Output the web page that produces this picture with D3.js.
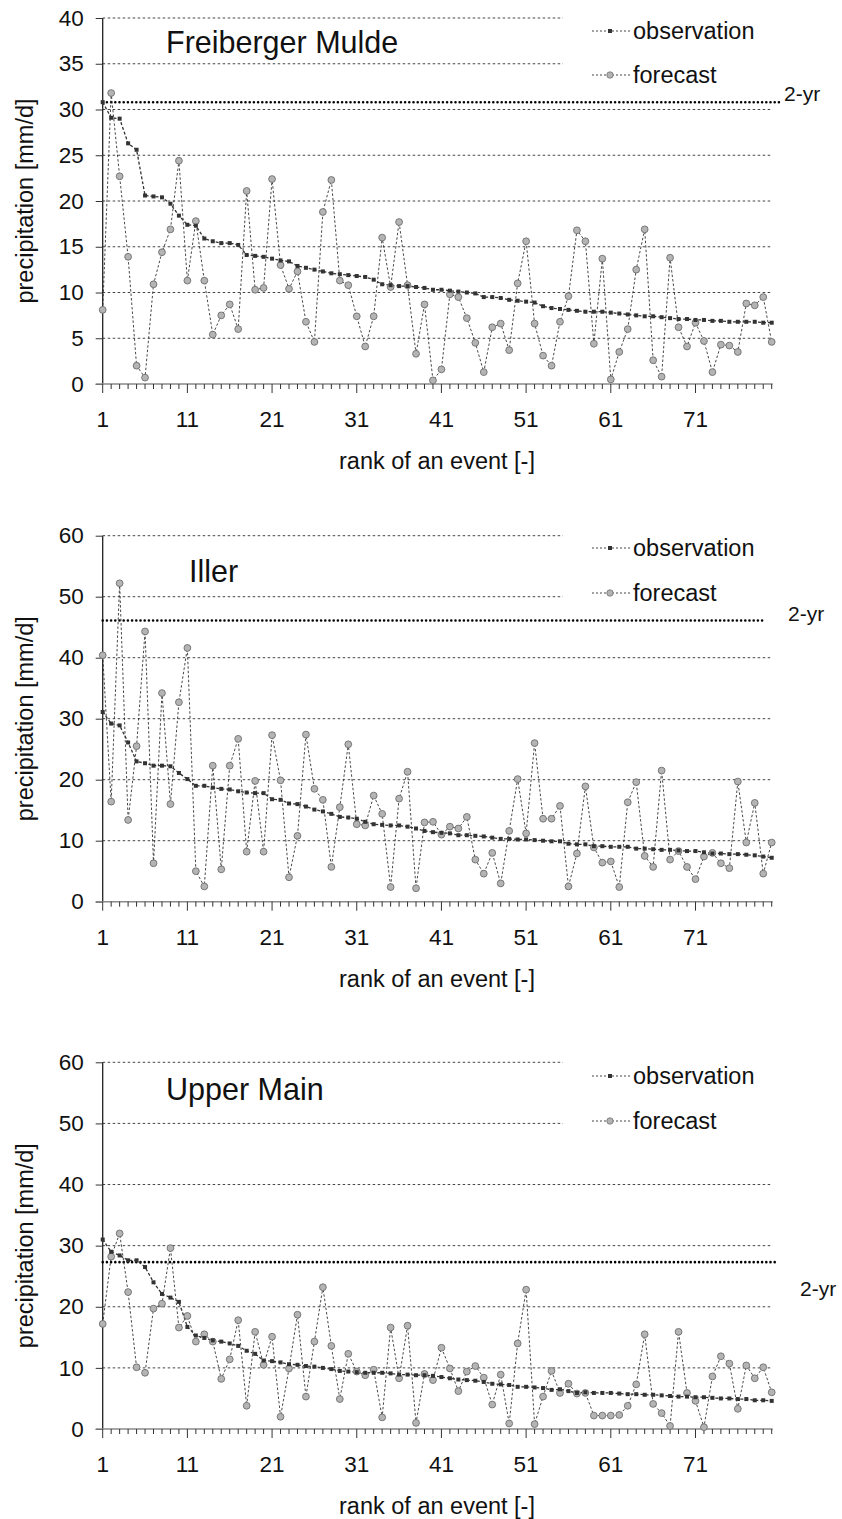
<!DOCTYPE html>
<html><head><meta charset="utf-8">
<script src="https://cdn.jsdelivr.net/npm/d3@7"></script>
<style>body{margin:0;background:#fff}svg{display:block}text{font-family:"Liberation Sans",Arial,sans-serif;fill:#111}</style>
</head><body><svg id="c" width="842" height="1519"></svg>
<script>
const ranks = d3.range(1, 81);
const xTickLabels = ["1","11","21","31","41","51","61","71"];
const titles = ["Freiberger Mulde","Iller","Upper Main"];
const yMaxes = [40, 60, 60];
const yTickSteps = [5, 10, 10];
const twoYr = [30.8, 46.1, 27.3];
const legendLabels = ["observation","forecast"];
const yLabel = "precipitation [mm/d]";
const xLabel = "rank of an event [-]";

const obs1 = [30.8,29.1,29.0,26.3,25.6,20.6,20.5,20.4,19.7,18.4,17.4,17.3,15.9,15.6,15.4,15.4,15.2,14.1,14.0,13.9,
13.7,13.5,13.4,12.9,12.7,12.5,12.3,12.1,12.0,11.9,11.8,11.7,11.4,10.9,10.8,10.7,10.7,10.6,10.5,10.3,
10.3,10.2,10.1,10.0,9.9,9.5,9.5,9.4,9.2,9.1,9.0,8.9,8.5,8.3,8.2,8.1,8.0,7.9,7.9,7.9,
7.8,7.7,7.6,7.5,7.4,7.4,7.3,7.2,7.1,7.1,7.0,7.0,6.9,6.9,6.8,6.8,6.8,6.8,6.7,6.7];
const fc1 = [8.1,31.8,22.7,13.9,2.0,0.7,10.9,14.4,16.9,24.4,11.3,17.8,11.3,5.4,7.5,8.7,6.0,21.1,10.3,10.5,
22.4,13.0,10.4,12.3,6.8,4.6,18.8,22.3,11.3,10.8,7.4,4.1,7.4,16.0,10.6,17.7,10.8,3.3,8.7,0.4,
1.6,9.8,9.5,7.2,4.5,1.3,6.2,6.6,3.7,11.0,15.6,6.6,3.1,2.0,6.8,9.6,16.8,15.6,4.4,13.7,
0.5,3.5,6.0,12.5,16.9,2.6,0.8,13.8,6.2,4.1,6.7,4.7,1.3,4.3,4.2,3.5,8.8,8.6,9.5,4.6];
const obs2 = [31.1,29.2,28.9,26.1,23.0,22.7,22.3,22.3,22.2,21.1,20.1,19.0,19.0,18.7,18.5,18.4,18.1,17.9,17.8,17.8,
16.8,16.7,16.1,16.0,15.6,15.1,14.8,14.4,13.9,13.8,13.6,13.1,12.7,12.6,12.5,12.5,12.3,12.0,11.6,11.4,
11.3,11.2,10.9,10.9,10.8,10.7,10.5,10.3,10.3,10.2,10.2,10.1,10.0,9.9,9.9,9.5,9.4,9.4,9.1,9.1,
9.0,9.0,9.0,8.7,8.7,8.6,8.5,8.5,8.4,8.3,8.3,8.1,7.9,7.9,7.8,7.8,7.7,7.6,7.4,7.2];
const fc2 = [40.4,16.4,52.2,13.4,25.5,44.3,6.3,34.2,16.0,32.7,41.6,5.0,2.5,22.3,5.3,22.3,26.7,8.2,19.8,8.2,
27.3,19.9,4.0,10.8,27.4,18.5,16.7,5.7,15.5,25.8,12.7,12.5,17.4,14.4,2.4,16.9,21.3,2.2,13.0,13.1,
11.0,12.3,12.0,13.9,6.9,4.6,8.0,3.0,11.6,20.1,11.2,26.0,13.6,13.6,15.7,2.5,7.9,18.9,8.9,6.4,
6.6,2.4,16.3,19.6,7.5,5.7,21.5,6.9,8.3,5.7,3.7,7.4,8.0,6.3,5.5,19.7,9.7,16.2,4.6,9.7];
const obs3 = [31.0,29.0,28.4,27.6,27.6,26.5,24.0,22.1,21.5,20.8,16.7,15.3,14.9,14.5,14.3,14.0,13.6,12.8,12.3,11.2,
11.1,10.9,10.6,10.5,10.3,10.2,10.0,9.8,9.5,9.4,9.3,9.2,9.2,9.2,9.1,8.9,8.9,8.8,8.8,8.7,
8.5,8.3,8.1,8.0,7.9,7.7,7.4,7.3,7.2,6.9,6.9,6.8,6.7,6.4,6.5,6.2,5.9,6.0,5.9,5.9,
5.9,5.8,5.7,5.7,5.6,5.6,5.5,5.4,5.3,5.3,5.2,5.2,5.1,5.0,5.0,4.9,4.9,4.7,4.7,4.6];
const fc3 = [17.2,28.2,32.0,22.4,10.1,9.2,19.7,20.5,29.6,16.6,18.5,14.3,15.5,14.3,8.2,11.4,17.8,3.8,15.9,10.5,
15.1,2.0,9.9,18.7,5.3,14.3,23.2,13.6,4.9,12.3,9.4,8.8,9.7,1.9,16.6,8.3,16.9,1.0,9.0,8.0,
13.3,9.9,6.2,9.4,10.3,8.4,4.0,8.9,0.9,14.0,22.8,0.8,5.3,9.5,5.9,7.4,5.8,5.9,2.2,2.2,
2.2,2.3,3.8,7.3,15.5,4.1,2.6,0.5,15.9,5.9,4.6,0.3,8.6,11.9,10.7,3.3,10.4,8.3,10.1,6.0];

const obsSeries = [obs1, obs2, obs3];
const fcSeries = [fc1, fc2, fc3];

// layout (pixel positions)
const layout = [
  {top:18, bottom:384, title:[166,53], leg:[39,83], legBox:[10,95], twoLbl:[784,101], twoEnd:780, xl:427, xt:469},
  {top:535.7, bottom:901.7, title:[189,582], leg:[556,601], legBox:[528,608], twoLbl:[788,621], twoEnd:763, xl:945, xt:987},
  {top:1062.3, bottom:1429, title:[166,1100], leg:[1084,1129], legBox:[1055,1140], twoLbl:[800,1296], twoEnd:777, xl:1472, xt:1514}
];
const X0 = 102.7, X1 = 771.7;
const svg = d3.select("#c");
const x = d3.scaleLinear().domain([1, 80]).range([X0, X1]);

layout.forEach((L, i) => {
  const g = svg.append("g");
  const y = d3.scaleLinear().domain([0, yMaxes[i]]).range([L.bottom, L.top]);
  const ticks = d3.range(0, yMaxes[i] + 0.001, yTickSteps[i]);

  // gridlines
  g.selectAll(".grid").data(ticks.filter(t => t > 0)).join("line")
    .attr("x1", X0).attr("x2", X1 + 1).attr("y1", d => y(d)).attr("y2", d => y(d))
    .attr("stroke", "#444").attr("stroke-width", 1).attr("stroke-dasharray", "2.5,2.5");

  // legend box covering gridlines
  g.append("rect").attr("x", 563).attr("y", L.legBox[0]).attr("width", 215).attr("height", L.legBox[1] - L.legBox[0]).attr("fill", "#fff");

  // y axis
  const ya = g.append("g").attr("transform", `translate(${X0},0)`)
    .call(d3.axisLeft(y).tickValues(ticks).tickSize(7).tickPadding(12).tickFormat(d3.format("d")));
  ya.select(".domain").attr("stroke", "#222").attr("stroke-width", 1.3).attr("d", `M0,${L.top}V${L.bottom}`);
  ya.selectAll(".tick line").attr("stroke", "#333");
  ya.selectAll(".tick text").style("font-size", "22.5px").attr("fill", "#111").style("font-family", '"Liberation Sans",Arial,sans-serif');

  // x axis
  g.append("line").attr("x1", X0 - 7).attr("x2", X1 + 1).attr("y1", L.bottom).attr("y2", L.bottom)
    .attr("stroke", "#8a8a8a").attr("stroke-width", 1.6);
  g.selectAll(".xt").data(ranks).join("line")
    .attr("x1", d => x(d)).attr("x2", d => x(d)).attr("y1", L.bottom)
    .attr("y2", d => L.bottom + ((d - 1) % 10 === 0 ? 9 : 5))
    .attr("stroke", "#333").attr("stroke-width", 1);
  g.selectAll(".xl").data(xTickLabels).join("text")
    .attr("x", d => x(+d)).attr("y", L.xl).attr("text-anchor", "middle").style("font-size", "22.5px").text(d => d);
  g.append("text").attr("x", 437).attr("y", L.xt).attr("text-anchor", "middle").style("font-size", "23.5px").text(xLabel);
  g.append("text").attr("transform", `translate(33,${(L.top + L.bottom) / 2}) rotate(-90)`)
    .attr("text-anchor", "middle").style("font-size", "23.5px").text(yLabel);

  // 2-yr line
  g.append("line").attr("x1", X0).attr("x2", L.twoEnd).attr("y1", y(twoYr[i])).attr("y2", y(twoYr[i]))
    .attr("stroke", "#000").attr("stroke-width", 2.6).attr("stroke-linecap", "round").attr("stroke-dasharray", "0,4.2");
  g.append("text").attr("x", L.twoLbl[0]).attr("y", L.twoLbl[1]).style("font-size", "21px").text("2-yr");

  // title
  g.append("text").attr("x", L.title[0]).attr("y", L.title[1]).style("font-size", "30.5px").text(titles[i]);

  // series
  const fc = fcSeries[i], ob = obsSeries[i];
  const line = d3.line().x((d, j) => x(ranks[j])).y(d => y(d));
  g.append("path").attr("d", line(fc)).attr("fill", "none").attr("stroke", "#333").attr("stroke-width", 0.9).attr("stroke-dasharray", "2.5,2");
  g.append("path").attr("d", line(ob)).attr("fill", "none").attr("stroke", "#333").attr("stroke-width", 1.3).attr("stroke-dasharray", "3,2");
  g.selectAll(".fc").data(fc).join("circle")
    .attr("cx", (d, j) => x(ranks[j])).attr("cy", d => y(d)).attr("r", 3.4)
    .attr("fill", "#b4b4b4").attr("stroke", "#6e6e6e").attr("stroke-width", 0.9);
  g.selectAll(".ob").data(ob).join("rect")
    .attr("x", (d, j) => x(ranks[j]) - 2).attr("y", d => y(d) - 2).attr("width", 4).attr("height", 4)
    .attr("fill", "#333");

  // legend
  const lg = g.append("g");
  [0, 1].forEach(k => {
    const ly = L.leg[k] - 8;
    lg.append("line").attr("x1", 592).attr("x2", 630).attr("y1", ly).attr("y2", ly)
      .attr("stroke", "#444").attr("stroke-width", 1).attr("stroke-dasharray", "2,2");
    if (k === 0) lg.append("rect").attr("x", 608).attr("y", ly - 2).attr("width", 4).attr("height", 4).attr("fill", "#333");
    else lg.append("circle").attr("cx", 610).attr("cy", ly).attr("r", 3.2).attr("fill", "#b4b4b4").attr("stroke", "#6e6e6e").attr("stroke-width", 0.8);
    lg.append("text").attr("x", 633).attr("y", L.leg[k]).style("font-size", "23.5px").text(legendLabels[k]);
  });
});
</script></body></html>
